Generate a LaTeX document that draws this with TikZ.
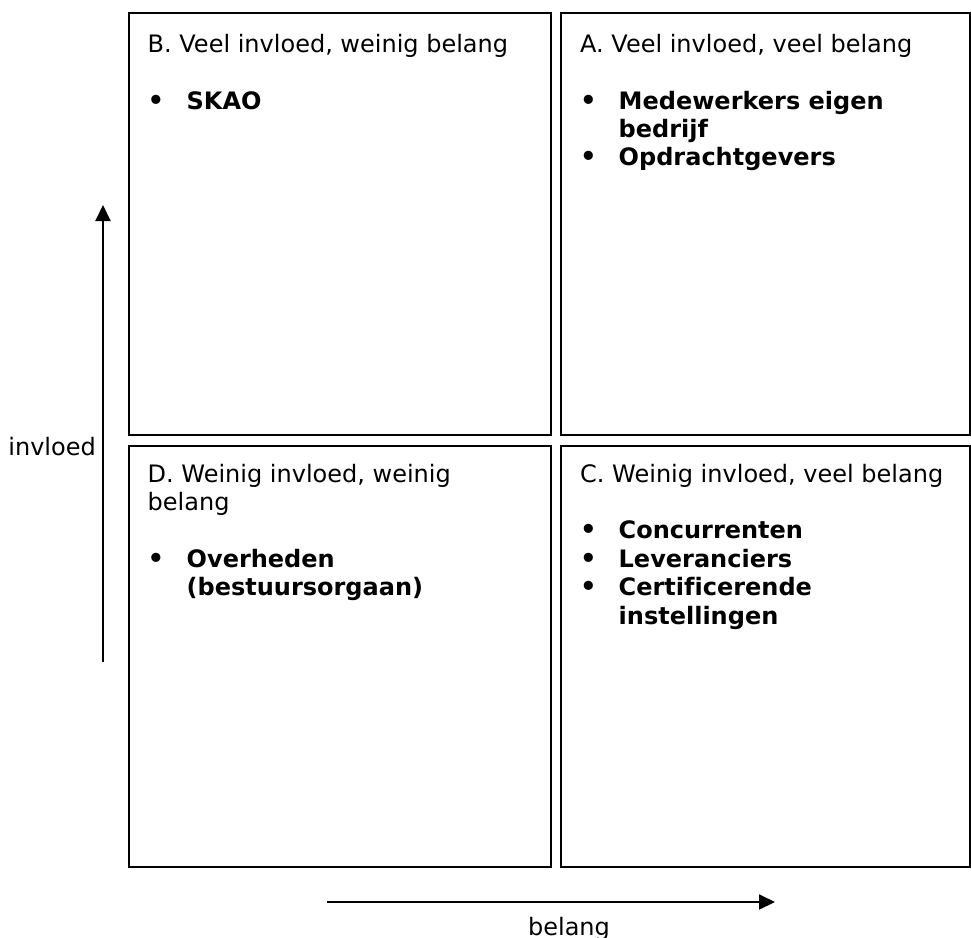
\documentclass[tikz,border=0pt]{standalone}
\usepackage{fontspec}
\setmainfont{DejaVu Sans}[Ligatures=NoCommon]
\usetikzlibrary{arrows.meta}
\tikzset{
  quad/.style={draw=black, line width=1.9pt},
  txt/.style={inner sep=0pt, anchor=base west, font=\fontsize{24}{28.4}\selectfont},
  btxt/.style={txt, font=\fontsize{24}{28.4}\selectfont\bfseries},
  bul/.style={inner sep=0pt, anchor=base west, font=\fontsize{26}{28.4}\selectfont\bfseries},
  axis/.style={line width=1.9pt, -{Triangle[length=16pt,width=15pt]}},
}
\begin{document}
\begin{tikzpicture}[x=1pt,y=-1pt]
\useasboundingbox (0,0) rectangle (971,937);
% quadrants
\draw[quad] (129,13) rectangle (551,435);
\draw[quad] (561,13) rectangle (970,435);
\draw[quad] (129,446) rectangle (551,867);
\draw[quad] (561,446) rectangle (970,867);
% B
\node[txt] (tB) at (147.5,52) {B. Veel invloed, weinig belang};
\node[bul] (bB1) at (147.5,109) {•};
\node[btxt] (iB1) at (186.5,109) {SKAO};
% A
\node[txt] (tA) at (580,52) {A. Veel invloed, veel belang};
\node[bul] (bA1) at (580,109) {•};
\node[btxt] (iA1) at (618.5,109) {Medewerkers eigen};
\node[btxt] (iA1b) at (618.5,137.4) {bedrijf};
\node[bul] (bA2) at (580,165.8) {•};
\node[btxt] (iA2) at (618.5,165.8) {Opdrachtgevers};
% D
\node[txt] (tD) at (147.5,482) {D. Weinig invloed, weinig};
\node[txt] (tD2) at (147.5,510.4) {belang};
\node[bul] (bD1) at (147.5,567.2) {•};
\node[btxt] (iD1) at (186.5,567.2) {Overheden};
\node[btxt] (iD1b) at (186.5,595.6) {(bestuursorgaan)};
% C
\node[txt] (tC) at (580,482) {C. Weinig invloed, veel belang};
\node[bul] (bC1) at (580,538.8) {•};
\node[btxt] (iC1) at (618.5,538.8) {Concurrenten};
\node[bul] (bC2) at (580,567.2) {•};
\node[btxt] (iC2) at (618.5,567.2) {Leveranciers};
\node[bul] (bC3) at (580,595.6) {•};
\node[btxt] (iC3) at (618.5,595.6) {Certificerende};
\node[btxt] (iC3b) at (618.5,624) {instellingen};
% axes
\coordinate (vs) at (103,662);
\coordinate (ve) at (103,205);
\draw[axis] (vs) -- (ve);
\coordinate (hs) at (327,902);
\coordinate (he) at (775,902);
\draw[axis] (hs) -- (he);
\node[txt, anchor=base east] (linv) at (96,455.5) {invloed};
\node[txt, anchor=base] (lbel) at (569,935.5) {belang};
\end{tikzpicture}
\end{document}
